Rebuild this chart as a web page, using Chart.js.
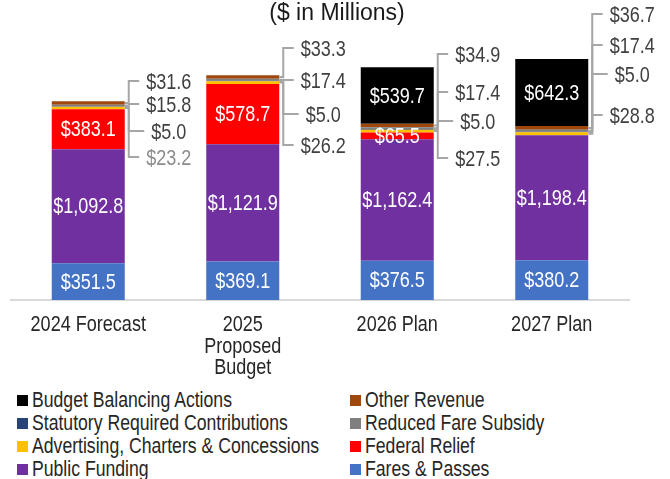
<!DOCTYPE html>
<html>
<head>
<meta charset="utf-8">
<script src="https://cdn.jsdelivr.net/npm/chart.js@4.4.1/dist/chart.umd.min.js"></script>
<style>
  html, body { margin: 0; padding: 0; background: #fff; }
  #wrap { position: relative; width: 670px; height: 479px; overflow: hidden; }
  #chart { position: absolute; left: 0; top: 0; }
  #legend {
    position: absolute; left: 17px; top: 389px;
    display: grid; grid-template-columns: 333px 300px;
    font: 21.5px 'Liberation Sans', Arial, sans-serif; color: #262626;
  }
  .item { height: 23px; display: flex; align-items: center; white-space: nowrap; }
  .sw { width: 11px; height: 11px; margin-right: 4px; flex: none; }
  .txt { display: inline-block; transform: scaleX(0.82); transform-origin: left center; }
</style>
</head>
<body>
<div id="wrap">
  <canvas id="chart" width="670" height="385"></canvas>
  <div id="legend"></div>
</div>
<script>
const categories = [['2024 Forecast'], ['2025', 'Proposed', 'Budget'], ['2026 Plan'], ['2027 Plan']];

// stacked bottom -> top
const faresPasses     = [351.5, 369.1, 376.5, 380.2];
const publicFunding   = [1092.8, 1121.9, 1162.4, 1198.4];
const federalRelief   = [383.1, 578.7, 65.5, 0];
const advertising     = [23.2, 26.2, 27.5, 28.8];
const statutory       = [5.0, 5.0, 5.0, 5.0];
const reducedFare     = [15.8, 17.4, 17.4, 17.4];
const otherRevenue    = [31.6, 33.3, 34.9, 36.7];
const budgetBalancing = [0, 0, 539.7, 642.3];

// where the call-out labels of the thin segments sit (axis units)
const advertisingCallout = [1370, 1485, 1360, 1772];
const statutoryCallout   = [1619, 1782, 1715, 2165];
const reducedFareCallout = [1877, 2107, 1992, 2443];
const otherCallout       = [2098, 2414, 2356, 2739];

const legendOrder = ['Budget Balancing Actions', 'Other Revenue', 'Statutory Required Contributions',
  'Reduced Fare Subsidy', 'Advertising, Charters & Concessions', 'Federal Relief', 'Public Funding', 'Fares & Passes'];

// no Arial Narrow here, so squeeze Liberation Sans sideways
const FONT = "22px 'Liberation Sans', Arial, sans-serif";
const SQUEEZE = 0.82;

const fmt = v => '$' + v.toLocaleString('en-US', { minimumFractionDigits: 1, maximumFractionDigits: 1 });

function narrowText(ctx, text, x, y) {
  ctx.save();
  ctx.translate(x, y);
  ctx.scale(SQUEEZE, 1);
  ctx.fillText(text, 0, 0);
  ctx.restore();
}

const valueLabels = {
  id: 'valueLabels',
  afterDatasetsDraw(chart) {
    const ctx = chart.ctx;
    const yScale = chart.scales.y;
    ctx.save();
    ctx.font = FONT;
    ctx.textAlign = 'center';
    ctx.textBaseline = 'middle';
    chart.data.datasets.forEach((ds, di) => {
      const meta = chart.getDatasetMeta(di);
      meta.data.forEach((bar, i) => {
        const v = ds.data[i];
        if (!v) return;
        const text = fmt(v);
        if (ds.callout) {
          const right = bar.x + bar.width / 2;
          const segY = (bar.y + bar.base) / 2;
          const ly = yScale.getPixelForValue(ds.callout[i]);
          const cx = right + 44;
          const w = ctx.measureText(text).width * SQUEEZE;
          ctx.strokeStyle = '#a6a6a6';
          ctx.lineWidth = 2;
          ctx.beginPath();
          ctx.moveTo(right, segY);
          ctx.lineTo(right + 4, segY);
          ctx.lineTo(right + 4, ly);
          ctx.lineTo(cx - w / 2 - 7, ly);
          ctx.stroke();
          ctx.fillStyle = (ds.calloutColors && ds.calloutColors[i]) || '#404040';
          narrowText(ctx, text, cx, ly + 2);
        } else {
          ctx.fillStyle = '#ffffff';
          narrowText(ctx, text, bar.x, (bar.y + bar.base) / 2 + 1);
        }
      });
    });
    ctx.restore();
  }
};

// category labels under the axis, drawn at the x scale's own positions
const categoryLabels = {
  id: 'categoryLabels',
  afterDraw(chart) {
    const ctx = chart.ctx;
    const xScale = chart.scales.x;
    ctx.save();
    ctx.font = FONT;
    ctx.fillStyle = '#262626';
    ctx.textAlign = 'center';
    ctx.textBaseline = 'middle';
    categories.forEach((lines, i) => {
      const x = xScale.getPixelForValue(i);
      lines.forEach((line, k) => narrowText(ctx, line, x, xScale.top + 25 + k * 21.5));
    });
    ctx.restore();
  }
};

const titleDraw = {
  id: 'titleDraw',
  afterDraw(chart) {
    const ctx = chart.ctx;
    ctx.save();
    ctx.font = "23px 'Liberation Sans', Arial, sans-serif";
    ctx.fillStyle = '#1a1a1a';
    ctx.textAlign = 'center';
    ctx.textBaseline = 'alphabetic';
    ctx.fillText('($ in Millions)', 337, 20);
    ctx.restore();
  }
};

const chart = new Chart(document.getElementById('chart'), {
  type: 'bar',
  data: {
    labels: categories,
    datasets: [
      { label: 'Fares & Passes', data: faresPasses, backgroundColor: '#4472c4' },
      { label: 'Public Funding', data: publicFunding, backgroundColor: '#7030a0' },
      { label: 'Federal Relief', data: federalRelief, backgroundColor: '#ff0000' },
      { label: 'Advertising, Charters & Concessions', data: advertising, backgroundColor: '#ffc000',
        callout: advertisingCallout, calloutColors: ['#8c8c8c'] },
      { label: 'Statutory Required Contributions', data: statutory, backgroundColor: '#264478', callout: statutoryCallout },
      { label: 'Reduced Fare Subsidy', data: reducedFare, backgroundColor: '#7f7f7f', callout: reducedFareCallout },
      { label: 'Other Revenue', data: otherRevenue, backgroundColor: '#9e480e', callout: otherCallout },
      { label: 'Budget Balancing Actions', data: budgetBalancing, backgroundColor: '#000000' }
    ]
  },
  options: {
    responsive: false,
    animation: false,
    devicePixelRatio: 1,
    layout: { padding: { left: 11, right: 41, top: 39, bottom: 0 } },
    datasets: { bar: { categoryPercentage: 1, barPercentage: 0.4725, borderWidth: 0 } },
    plugins: { legend: { display: false }, tooltip: { enabled: false } },
    scales: {
      x: {
        stacked: true,
        grid: { display: false, drawTicks: false },
        border: { display: true, color: '#d9d9d9', width: 2 },
        ticks: { display: false },
        afterFit(scale) { scale.height = 85; }
      },
      y: { stacked: true, display: false, min: 0, max: 2500 }
    }
  },
  plugins: [valueLabels, categoryLabels, titleDraw]
});

// html legend in two columns
const legendEl = document.getElementById('legend');
legendOrder.forEach(name => {
  const ds = chart.data.datasets.find(d => d.label === name);
  const item = document.createElement('div');
  item.className = 'item';
  const sw = document.createElement('span');
  sw.className = 'sw';
  sw.style.background = ds.backgroundColor;
  const txt = document.createElement('span');
  txt.className = 'txt';
  txt.textContent = name;
  item.appendChild(sw);
  item.appendChild(txt);
  legendEl.appendChild(item);
});
</script>
</body>
</html>
